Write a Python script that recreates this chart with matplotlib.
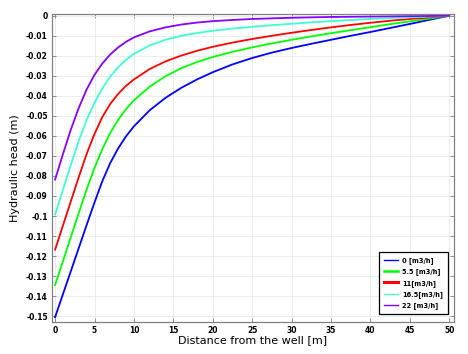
import matplotlib.pyplot as plt

# Distance from the well [m]
x = [0, 1, 2, 3, 4, 5, 6, 7, 8, 9, 10, 12, 14, 16, 18, 20, 22.5, 25, 27.5,
     30, 32.5, 35, 37.5, 40, 42.5, 45, 47.5, 50]

# Hydraulic head [m] for each pumping rate
h_0 = [-0.1505, -0.1390, -0.1275, -0.1160, -0.1045, -0.0932, -0.0825, -0.0735,
       -0.0662, -0.0602, -0.0552, -0.0472, -0.0410, -0.0360, -0.0318, -0.0282,
       -0.0243, -0.0211, -0.0184, -0.0161, -0.0140, -0.0120, -0.0100, -0.0081,
       -0.0061, -0.0041, -0.0020, 0.0]
h_55 = [-0.1345, -0.1225, -0.1105, -0.0985, -0.0868, -0.0760, -0.0665, -0.0585,
        -0.0520, -0.0466, -0.0422, -0.0354, -0.0302, -0.0262, -0.0231, -0.0206,
        -0.0180, -0.0158, -0.0138, -0.0120, -0.0103, -0.0087, -0.0072, -0.0057,
        -0.0042, -0.0028, -0.0014, 0.0]
h_11 = [-0.1168, -0.1047, -0.0926, -0.0806, -0.0690, -0.0590, -0.0505, -0.0440,
        -0.0390, -0.0350, -0.0318, -0.0266, -0.0228, -0.0199, -0.0175, -0.0155,
        -0.0134, -0.0116, -0.0100, -0.0085, -0.0071, -0.0058, -0.0046, -0.0035,
        -0.0025, -0.0016, -0.0008, 0.0]
h_165 = [-0.0992, -0.0868, -0.0744, -0.0625, -0.0520, -0.0435, -0.0362, -0.0303,
         -0.0257, -0.0220, -0.0190, -0.0148, -0.0120, -0.0100, -0.0086, -0.0075,
         -0.0064, -0.0055, -0.0047, -0.0040, -0.0033, -0.0027, -0.0021, -0.0016,
         -0.0012, -0.0008, -0.0004, 0.0]
h_22 = [-0.0818, -0.0690, -0.0568, -0.0460, -0.0368, -0.0295, -0.0238, -0.0193,
        -0.0158, -0.0130, -0.0108, -0.0078, -0.0058, -0.0044, -0.0034, -0.0027,
        -0.0021, -0.0016, -0.0013, -0.0010, -0.0008, -0.0006, -0.0005, -0.0004,
        -0.0003, -0.0002, -0.0001, 0.0]

labels = ["0 [m3/h]", "5.5 [m3/h]", "11[m3/h]", "16.5[m3/h]", "22 [m3/h]"]
colors = ["#0000ff", "#00ff00", "#ff0000", "#40ffd0", "#8800ff"]
legend_widths = [1.0, 1.8, 2.2, 1.0, 1.0]

y_ticks = [0, -0.01, -0.02, -0.03, -0.04, -0.05, -0.06, -0.07, -0.08,
           -0.09, -0.1, -0.11, -0.12, -0.13, -0.14, -0.15]
y_tick_labels = ["0", "-0.01", "-0.02", "-0.03", "-0.04", "-0.05", "-0.06", "-0.07",
                 "-0.08", "-0.09", "-0.1", "-0.11", "-0.12", "-0.13", "-0.14", "-0.15"]
x_ticks = [0, 5, 10, 15, 20, 25, 30, 35, 40, 45, 50]

fig = plt.figure(figsize=(4.68, 3.54), dpi=100)
ax = fig.add_axes([0.111, 0.090, 0.859, 0.870])

for h, c, lab in zip([h_0, h_55, h_11, h_165, h_22], colors, labels):
    ax.plot(x, h, color=c, lw=1.3, label=lab)

ax.set_xlim(-0.4, 50.6)
ax.set_ylim(-0.153, 0.0008)
ax.set_xticks(x_ticks)
ax.set_yticks(y_ticks)
ax.set_yticklabels(y_tick_labels)
ax.tick_params(direction="in", top=True, right=True, length=3, width=0.6,
               color="#808080", labelsize=5.5, pad=3)
ax.tick_params(axis="x", pad=2.5)
for lab in ax.get_xticklabels() + ax.get_yticklabels():
    lab.set_fontweight("bold")
ax.grid(True, color="#e4eaea", lw=0.6)
for s in ax.spines.values():
    s.set_color("#808080")
    s.set_linewidth(0.9)

ax.set_xlabel("Distance from the well [m]", fontsize=8, labelpad=0)
ax.set_ylabel("Hydraulic head (m)", fontsize=8, labelpad=4)

leg = ax.legend(loc="lower right", bbox_to_anchor=(0.984, 0.027), borderaxespad=0,
                fancybox=False, framealpha=1, edgecolor="black",
                prop={"size": 4.8, "weight": "bold"}, handlelength=2.1,
                handletextpad=0.6, labelspacing=0.65, borderpad=0.7)
leg.get_frame().set_linewidth(0.9)
for hl, w in zip(leg.get_lines(), legend_widths):
    hl.set_linewidth(w)

plt.savefig("out.png", dpi=100)
